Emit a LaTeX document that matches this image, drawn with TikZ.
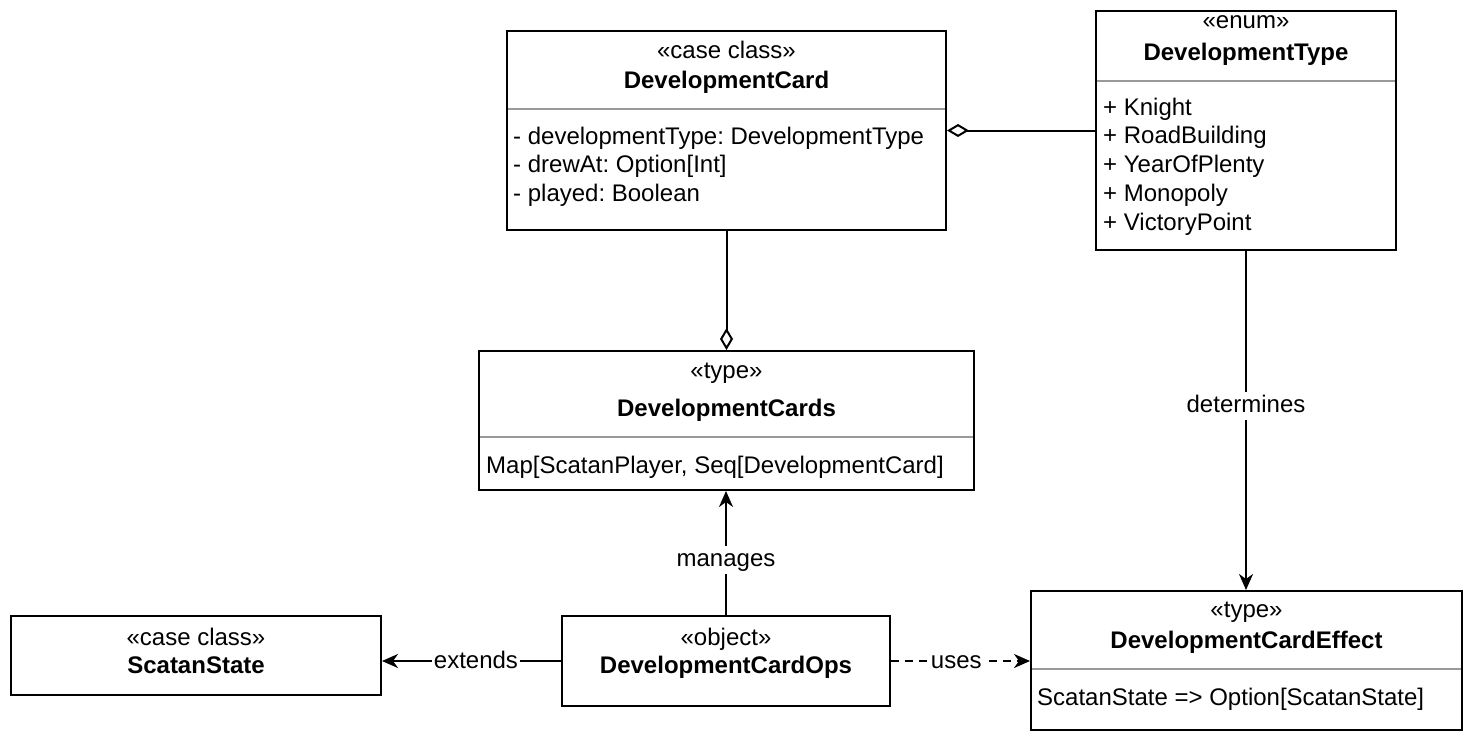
\documentclass[tikz,border=0pt]{standalone}
\usepackage{fontspec}
\setmainfont{Liberation Sans}
\usetikzlibrary{arrows.meta}
\frenchspacing
\begin{document}
\begin{tikzpicture}[x=1pt,y=-1pt,
  every node/.style={font=\fontsize{24}{28.8}\selectfont, inner sep=0pt},
  cls/.style={draw=black, line width=2pt, rectangle, fill=white},
  sepline/.style={draw=black!40, line width=2pt},
  st/.style={anchor=base},
  nm/.style={anchor=base, font=\fontsize{24}{28.8}\selectfont\bfseries},
  attr/.style={anchor=base west},
  conn/.style={line width=2pt, draw=black},
  lbl/.style={fill=white, text height=21pt, text depth=7pt, inner xsep=2pt, inner ysep=0pt},
  tip/.style={-{Stealth[length=16pt,width=14pt,inset=5pt]}},
  agg/.style={-{Diamond[open,length=22pt,width=13pt]}}
]
\fill[white] (0,0) rectangle (1472,742);
\useasboundingbox (0,0) rectangle (1472,742);

% class boxes
\node[cls, minimum width=439pt, minimum height=199pt] (dc) at (726.5,130.5) {};
\node[cls, minimum width=300pt, minimum height=239pt] (dt) at (1246,130.5) {};
\node[cls, minimum width=495pt, minimum height=139pt] (dcs) at (726.5,420.5) {};
\node[cls, minimum width=370pt, minimum height=79pt] (ss) at (196,655.5) {};
\node[cls, minimum width=328pt, minimum height=90pt] (ops) at (726,661) {};
\node[cls, minimum width=431pt, minimum height=139pt] (dce) at (1246.5,660.5) {};

% separators
\draw[sepline] (508,108.5) -- (945,108.5);
\draw[sepline] (1097,80.5) -- (1395,80.5);
\draw[sepline] (480,437) -- (973,437);
\draw[sepline] (1032,668.5) -- (1461,668.5);

% DevelopmentCard
\node[st] (dcS) at (726.5,58) {«case class»};
\node[nm] (dcN) at (726.5,88) {DevelopmentCard};
\node[attr] (dcA1) at (513,144) {- developmentType: DevelopmentType};
\node[attr] (dcA2) at (513,172.8) {- drewAt: Option[Int]};
\node[attr] (dcA3) at (513,201.6) {- played: Boolean};

% DevelopmentType
\node[st] (dtS) at (1246,28) {«enum»};
\node[nm] (dtN) at (1246,60) {DevelopmentType};
\node[attr] (dtA1) at (1103,115) {+ Knight};
\node[attr] (dtA2) at (1103,143.8) {+ RoadBuilding};
\node[attr] (dtA3) at (1103,172.6) {+ YearOfPlenty};
\node[attr] (dtA4) at (1103,201.4) {+ Monopoly};
\node[attr] (dtA5) at (1103,230.2) {+ VictoryPoint};

% DevelopmentCards
\node[st] (dcsS) at (726.5,378) {«type»};
\node[nm] (dcsN) at (726.5,416) {DevelopmentCards};
\node[attr] (dcsA) at (486,473) {Map[ScatanPlayer, Seq[DevelopmentCard]};

% ScatanState
\node[st] (ssS) at (196,645) {«case class»};
\node[nm] (ssN) at (196,673) {ScatanState};

% DevelopmentCardOps
\node[st] (opsS) at (726,645) {«object»};
\node[nm] (opsN) at (726,673) {DevelopmentCardOps};

% DevelopmentCardEffect
\node[st] (dceS) at (1246.5,617) {«type»};
\node[nm] (dceN) at (1246.5,648) {DevelopmentCardEffect};
\node[attr] (dceA) at (1037,705) {ScatanState => Option[ScatanState]};

% connectors
\draw[conn, agg] (dc.south) -- (dc.south |- dcs.north);
\draw[conn, agg] (dt.west) -- (dc.east);
\draw[conn, tip] (dt.south) -- node[lbl, pos=0.457] (lDet) {determines} (dt.south |- dce.north);
\draw[conn, tip] (ops.north) -- node[lbl, pos=0.444] (lMan) {manages} (ops.north |- dcs.south);
\draw[conn, tip] (ops.west) -- node[lbl, pos=0.475] (lExt) {extends} (ops.west -| ss.east);
\draw[conn, tip, dash pattern=on 8pt off 6pt] (ops.east) -- node[lbl, pos=0.47] (lUse) {uses} (ops.east -| dce.west);
\end{tikzpicture}
\end{document}
